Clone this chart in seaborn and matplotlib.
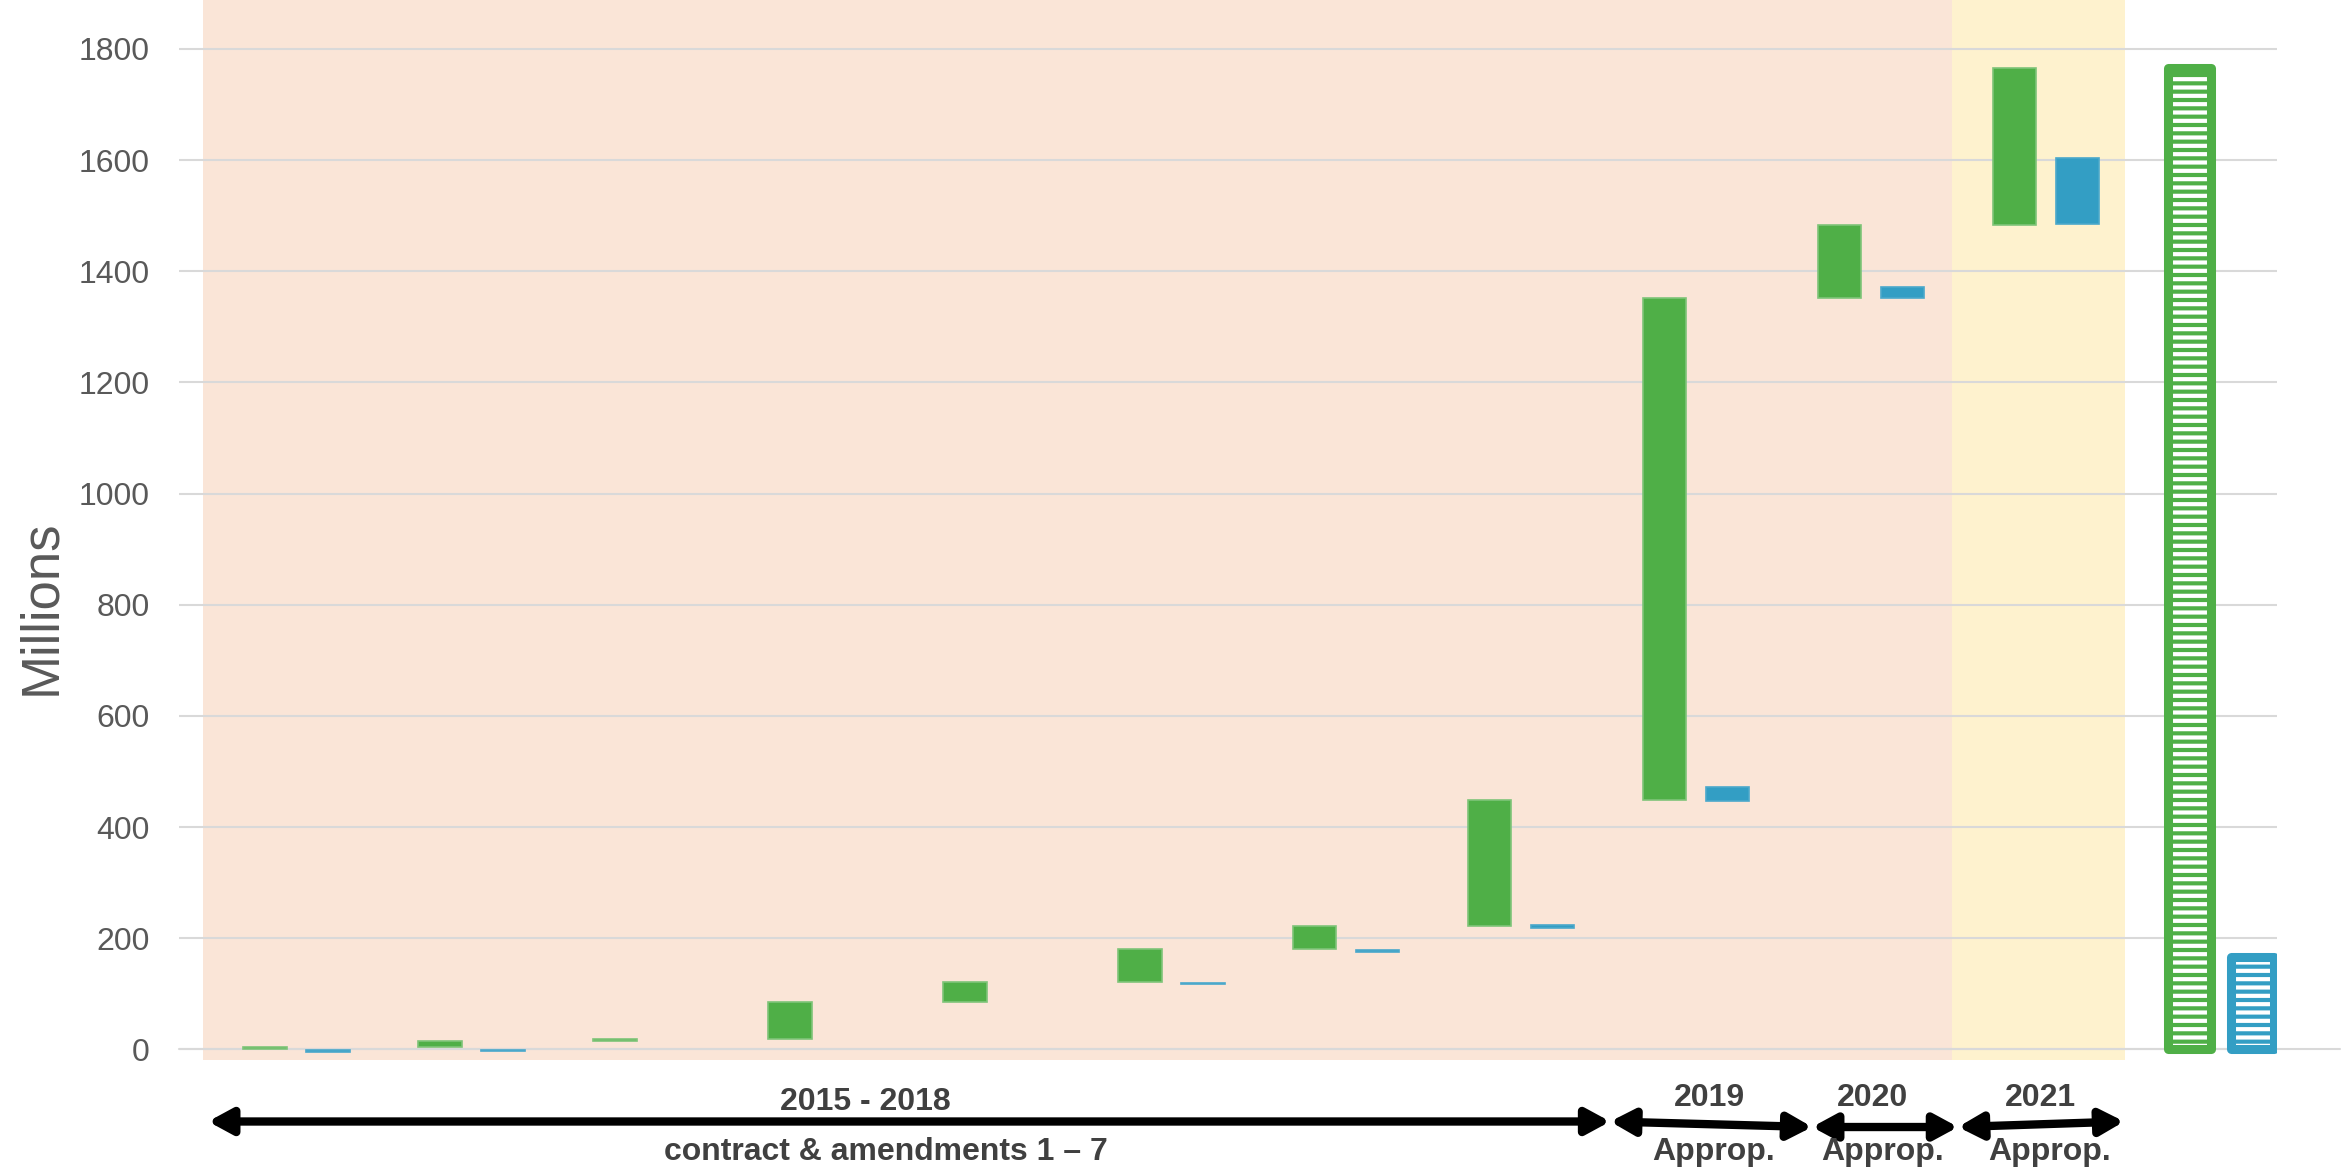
import numpy as np
import pandas as pd
import matplotlib
matplotlib.use("Agg")
import matplotlib.pyplot as plt
import matplotlib.transforms as mtransforms
import seaborn as sns

# ---- data (millions) ----
# green: cumulative waterfall steps (contract, amendments, appropriations)
green_steps = [4, 11, 4, 66, 37, 58, 43, 226, 902, 132, 283]
# blue: floating bars (bottom, height); NaN where there is no bar
blue_bottom = [-4, -3, np.nan, np.nan, np.nan, 118, 175.5, 219, 447, 1352, 1485]
blue_height = [3.5, 2.5, np.nan, np.nan, np.nan, 2, 3, 5, 26, 19, 118]
green_total = 1766
blue_total = 167

period_labels = ["2015 - 2018", "2019", "2020", "2021"]
period_sub = ["contract & amendments 1 \u2013 7", "Approp.", "Approp.", "Approp."]
yticks = [0, 200, 400, 600, 800, 1000, 1200, 1400, 1600, 1800]

GREEN = "#4faf47"
BLUE = "#339ec4"
PEACH = "#fae5d7"
YELLOW = "#fef2ce"
GRID = "#d9d9d9"

sns.set_theme(style="white")
plt.rcParams['font.family'] = ['Liberation Sans', 'DejaVu Sans']
plt.rcParams['hatch.linewidth'] = 3.0

fig = plt.figure(figsize=(23.41, 11.70), dpi=100)
ax = fig.add_axes([0.0765, 0.094, 0.8962, 0.906])

# <1> background periods
ax.axvspan(-0.53, 9.46, color=PEACH, lw=0, zorder=0)
ax.axvspan(9.46, 10.45, color=YELLOW, lw=0, zorder=0)

# <2> waterfall bars
pos = np.arange(len(green_steps))
green_top = np.cumsum(green_steps)
green_bottom = green_top - np.array(green_steps)

sns.barplot(x=pos - 0.18, y=green_steps, bottom=green_bottom, native_scale=True,
            width=0.25, color=GREEN, saturation=1, edgecolor="#7fc479", linewidth=1.2,
            errorbar=None, ax=ax, zorder=3)

blue = pd.DataFrame({"x": pos + 0.18, "bottom": blue_bottom, "height": blue_height}).dropna()
sns.barplot(x=blue["x"].values, y=blue["height"].values, bottom=blue["bottom"].values,
            native_scale=True, width=0.25, color=BLUE, saturation=1, edgecolor="#4aa8cb",
            linewidth=1.2, errorbar=None, ax=ax, zorder=3)

# <3> totals (hatched, rounded outline)
tot_x = len(green_steps)
for xx, val, col in [(tot_x - 0.18, green_total, GREEN), (tot_x + 0.18, blue_total, BLUE)]:
    bars = ax.bar(xx, val, width=0.25, color=col, edgecolor="white", hatch="--",
                  linewidth=0, zorder=3)
    for b in bars:
        if hasattr(b, "set_hatch_linewidth"):
            b.set_hatch_linewidth(3.0)
    ax.bar(xx, val, width=0.25, fill=False, edgecolor=col, linewidth=6.5,
           joinstyle="round", zorder=4)

# <4> axes styling
ax.set_xlim(-0.669, 11.32)
ax.set_ylim(-19, 1888)
ax.set_yticks(yticks)
ax.set_xticks([])
ax.set_xlabel("")
ax.yaxis.grid(True, color=GRID, lw=1.5)
ax.set_axisbelow(True)
ax.axhline(0, xmax=1.03, color=GRID, lw=1.5, zorder=0.6, clip_on=False)
for s in ax.spines.values():
    s.set_visible(False)
ax.tick_params(axis="y", length=0, pad=21, labelsize=23, labelcolor="#595959")
ax.set_ylabel("Millions", fontsize=38, color="#595959")
ax.yaxis.set_label_coords(-0.054, 0.427)

# <5> timeline below the chart
trans = mtransforms.blended_transform_factory(ax.transData, ax.transAxes)
arrows = [(-0.503, 7.509, -0.058, -0.058),
          (7.509, 8.663, -0.058, -0.0632),
          (8.663, 9.497, -0.0632, -0.0632),
          (9.497, 10.446, -0.0632, -0.058)]
for x0, x1, y0, y1 in arrows:
    ax.annotate("", xy=(x1, y1), xytext=(x0, y0), xycoords=trans, textcoords=trans,
                annotation_clip=False,
                arrowprops=dict(arrowstyle="<|-|>,head_length=0.7,head_width=0.38",
                                mutation_scale=20, lw=6, color="black",
                                shrinkA=0, shrinkB=0))

label_x = [3.25, 8.074, 9.01, 9.97]
sub_x = [3.37, 8.097, 9.066, 10.02]
for lab, sub, lx, sx in zip(period_labels, period_sub, label_x, sub_x):
    ax.text(lx, -0.0434 if lab != "2015 - 2018" else -0.0472, lab, transform=trans,
            ha="center", va="baseline", fontsize=23, fontweight="bold", color="#404040")
    ax.text(sx, -0.094, sub, transform=trans, ha="center", va="baseline",
            fontsize=23, fontweight="bold", color="#404040")

fig.savefig("out.png", dpi=100)
